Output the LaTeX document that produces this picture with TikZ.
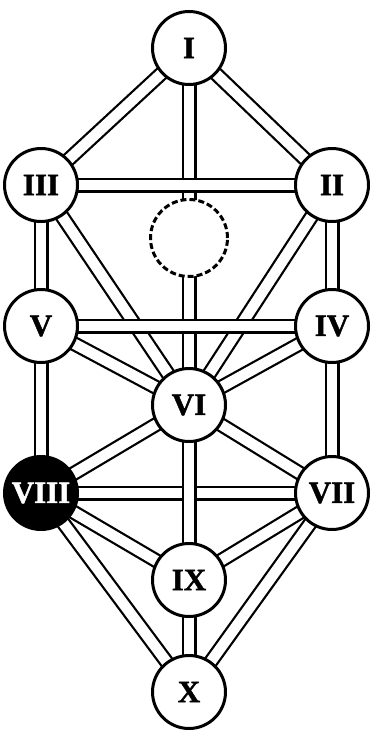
\documentclass[tikz,border=0pt]{standalone}
\usepackage{fontspec}
\setmainfont{Liberation Serif}
\newfontfamily\heavyserif[FakeBold=1.3]{Liberation Serif Bold}
\begin{document}
\begin{tikzpicture}[x=1pt,y=-1pt,
  sephira/.style={circle,draw=black,line width=3pt,fill=white,minimum size=73pt,inner sep=0pt,
    font=\heavyserif\fontsize{31}{31}\selectfont},
  hidden/.style={circle,draw=black,line width=3pt,dash pattern=on 6pt off 3pt,fill=white,minimum size=77pt,inner sep=0pt},
  dark/.style={sephira,fill=black,text=white},
  chanout/.style={line width=15pt,black},
  chanin/.style={line width=10.5pt,white}]
\useasboundingbox (0,0) rectangle (377,747);
% positions
\coordinate (pI) at (189,48);
\coordinate (pIII) at (41,185);
\coordinate (pII) at (332,185);
\coordinate (pD) at (189,238);
\coordinate (pV) at (41,326);
\coordinate (pIV) at (332,326);
\coordinate (pVI) at (189,405);
\coordinate (pVIII) at (41,493);
\coordinate (pVII) at (332,493);
\coordinate (pIX) at (189,580);
\coordinate (pX) at (189,692);
\newcommand{\chan}[2]{\draw[chanout] (#1) -- (#2); \draw[chanin] (#1) -- (#2);}
\chan{pI}{pVI}
\chan{pI}{pIII}
\chan{pI}{pII}
\chan{pIII}{pVI}
\chan{pII}{pVI}
\chan{pIII}{pII}
\chan{pIII}{pV}
\chan{pII}{pIV}
\chan{pV}{pIV}
\chan{pV}{pVI}
\chan{pIV}{pVI}
\chan{pV}{pVIII}
\chan{pIV}{pVII}
\chan{pVIII}{pVII}
\chan{pVI}{pVIII}
\chan{pVI}{pVII}
\chan{pVI}{pIX}
\chan{pVIII}{pIX}
\chan{pVII}{pIX}
\chan{pVIII}{pX}
\chan{pVII}{pX}
\chan{pIX}{pX}
\node[hidden] (D) at (pD) {};
\node[sephira] (I) at (pI) {I};
\node[sephira] (III) at (pIII) {III};
\node[sephira] (II) at (pII) {II};
\node[sephira] (V) at (pV) {V};
\node[sephira] (IV) at (pIV) {IV};
\node[sephira] (VI) at (pVI) {VI};
\node[dark] (VIII) at (pVIII) {VIII};
\node[sephira] (VII) at (pVII) {VII};
\node[sephira] (IX) at (pIX) {IX};
\node[sephira] (X) at (pX) {X};
\end{tikzpicture}
\end{document}
